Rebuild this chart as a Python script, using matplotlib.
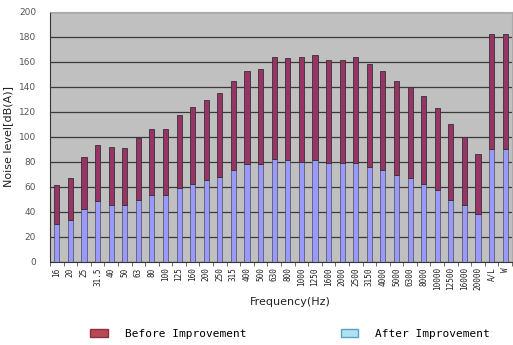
import matplotlib
matplotlib.use("Agg")
import matplotlib.pyplot as plt
from matplotlib.patches import Patch
import numpy as np

# frequency bands
freqs = ["16", "20", "25", "31.5", "40", "50", "63", "80", "100", "125", "160",
         "200", "250", "315", "400", "500", "630", "800", "1000", "1250", "1600",
         "2000", "2500", "3150", "4000", "5000", "6300", "8000", "10000", "12500",
         "16000", "20000", "A/L", "W"]

# after improvement (bottom of the stack)
after = [30, 33, 42.5, 48.5, 45.5, 45, 49.5, 53.5, 53.5, 59, 62.5, 65, 68, 73, 78,
         78, 82, 81, 80, 81, 79, 79, 79, 75.5, 73, 69.5, 67, 62.5, 57, 49.5,
         45, 38.5, 90, 90]

# before improvement (stacked on top)
before = [31, 34, 41, 44.5, 46, 46, 49.5, 52.5, 53, 58.5, 61.5, 64.5, 67, 71.5, 74.5,
          76.5, 82, 82, 84, 84, 82, 82, 84.5, 83, 79.5, 75, 73, 70, 66, 61,
          55, 47.5, 92.5, 92.5]

fig = plt.figure(figsize=(5.13, 3.45), dpi=100)
ax = fig.add_axes([50 / 513, 1 - 261.7 / 345, 462 / 513, 250 / 345])
ax.set_facecolor("#c0c0c0")

x = np.arange(len(freqs))
w = 0.38
ax.bar(x, after, w, color="#9999ff", edgecolor="#333333", linewidth=0.4, zorder=3)
ax.bar(x, before, w, bottom=after, color="#993366", edgecolor="#333333",
       linewidth=0.6, zorder=3)

ax.set_xlim(-0.5, len(freqs) - 0.5)
ax.set_ylim(0, 200)
ax.set_yticks(range(0, 201, 20))
ax.yaxis.grid(True, color="#3a3a3a", linewidth=0.9, zorder=1)
ax.set_axisbelow(True)

ax.set_xticks(x)
ax.set_xticklabels(freqs, rotation=90, fontsize=5.5, color="#222222",
                   family="DejaVu Sans Mono")
ax.set_xticks(np.arange(-0.5, len(freqs)), minor=True)
ax.tick_params(axis="x", which="major", length=0, pad=4)
ax.tick_params(axis="x", which="minor", length=3, color="#555555", width=0.6)
ax.tick_params(axis="y", length=0, labelsize=6.5, labelcolor="#555555", pad=10)

for side in ["top", "right"]:
    ax.spines[side].set_color("#aaaaaa")
    ax.spines[side].set_linewidth(0.8)
ax.spines["left"].set_color("#333333")
ax.spines["bottom"].set_color("#333333")
ax.spines["left"].set_linewidth(0.8)
ax.spines["bottom"].set_linewidth(0.8)

ax.set_ylabel("Noise level[dB(A)]", fontsize=8, color="#222222", labelpad=4)
fig.text(290 / 513, 1 - 302 / 345, "Frequency(Hz)", ha="center", va="center",
         fontsize=8, color="#222222")

handles = [Patch(facecolor="#b84a55", edgecolor="#8a3040"),
           Patch(facecolor="#aee4f2", edgecolor="#5aa0c8")]
fig.legend(handles, ["Before Improvement", "After Improvement"], ncol=2,
           loc="center", bbox_to_anchor=(290 / 513, 1 - 334 / 345), frameon=False,
           prop={"family": "DejaVu Sans Mono", "size": 8},
           handlelength=1.6, handleheight=0.8, handletextpad=1.5, columnspacing=8.5)

fig.savefig("out.png", dpi=100)
